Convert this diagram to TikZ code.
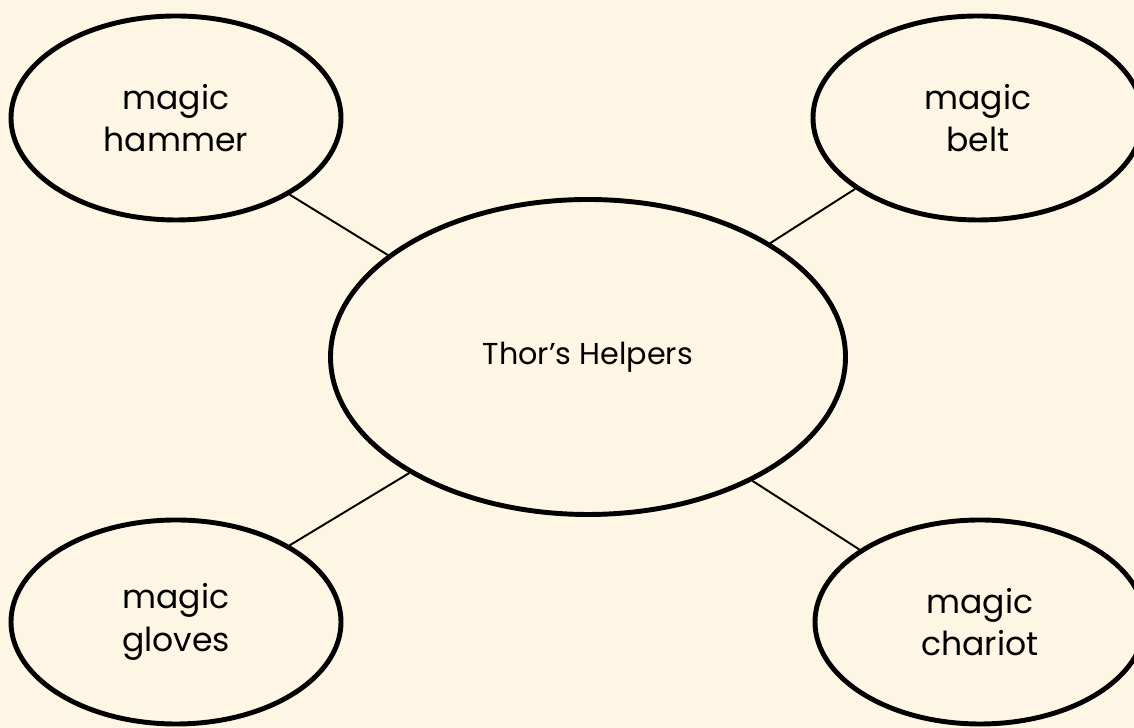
\documentclass[tikz,border=0pt]{standalone}
\usepackage{fontspec}
\setmainfont{Poppins}
\usepackage{xcolor}
\usepackage{tikz}
\usetikzlibrary{shapes,positioning,calc}
\definecolor{cream}{HTML}{FEF6E4}

\begin{document}
\begin{tikzpicture}[
    bubble/.style={ellipse, draw=black, line width=2.8pt, fill=cream, minimum width=6.6cm, minimum height=4.08cm, align=center, inner sep=0pt, font=\fontsize{18.8}{24.2}\selectfont},
    hub/.style={ellipse, draw=black, line width=2.8pt, fill=cream, minimum width=10.3cm, minimum height=6.3cm, align=center, inner sep=0pt, font=\fontsize{17.2}{21}\selectfont},
    link/.style={line width=1.1pt, black}
]

% Page and background
\useasboundingbox (0,0) rectangle (22.68,14.56);
\fill[cream] (0,0) rectangle (22.68,14.56);
\clip (0,0) rectangle (22.68,14.56);

% Central idea
\node[hub] (helpers) at (11.76,7.42) {Thor’s Helpers};

% Outer ideas
\node[bubble] (hammer) at (3.52,12.2) {magic\\hammer};
\node[bubble] (belt) at (19.56,12.2) {magic\\belt};
\node[bubble] (gloves) at (3.52,2.12) {magic\\gloves};
\node[bubble] (chariot) at (19.6,2.12) {magic\\chariot};

% Links
\draw[link] (hammer.-34) -- (helpers.153);
\draw[link] (belt.210) -- (helpers.32);
\draw[link] (gloves.34) -- (helpers.213);
\draw[link] (chariot.149) -- (helpers.-37);

\end{tikzpicture}
\end{document}
